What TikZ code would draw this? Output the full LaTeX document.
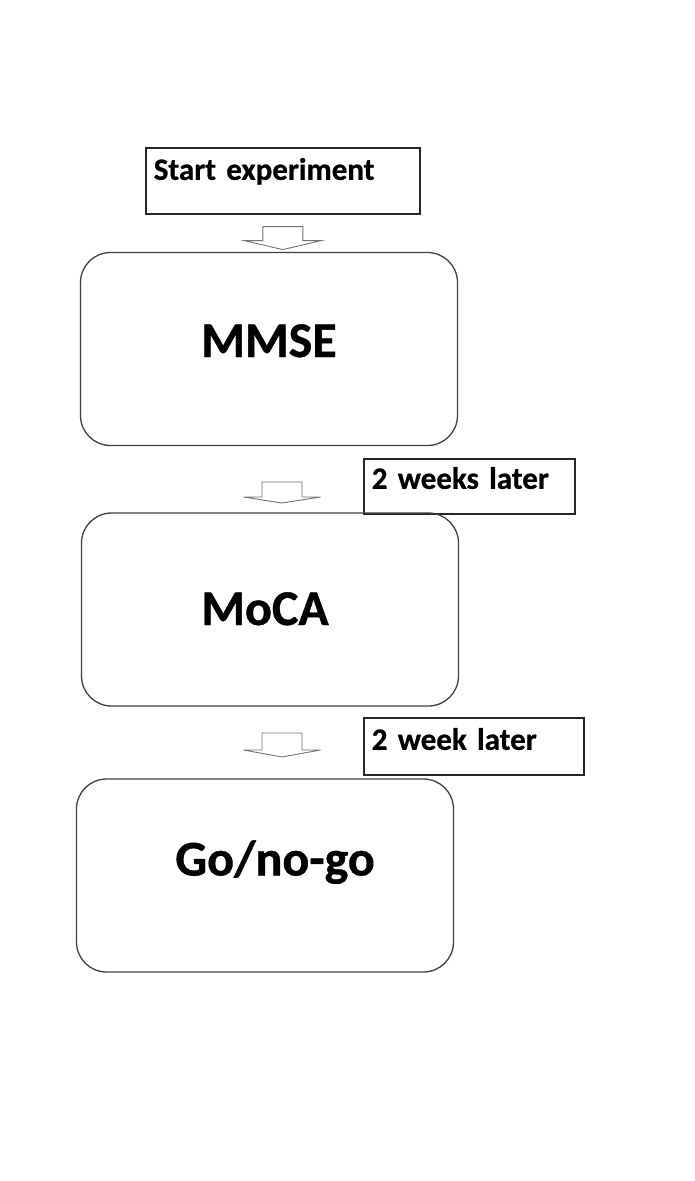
\documentclass[tikz,border=0pt]{standalone}
\usepackage{fontspec}
\setmainfont{Carlito}[BoldFeatures={FakeBold=0.8}]
\usetikzlibrary{positioning}

\tikzset{
  pics/blockdown/.style 2 args={code={
    \draw[draw=black!55, line width=0.9pt, fill=white, line join=miter]
      (-20,0) -- (20,0) -- (20,#1) -- (38.5,#1) -- (0,#1+#2)
      -- (-38.5,#1) -- (-20,#1) -- cycle;
  }}
}

\begin{document}
\begin{tikzpicture}[
  x=1pt, y=-1pt,
  stagebox/.style={rectangle, draw=black!75, line width=1.3pt, rounded corners=30pt,
                   minimum width=377pt, minimum height=193pt, inner sep=0pt,
                   text height=32pt, font=\fontsize{50}{60}\selectfont\bfseries},
  notebox/.style={rectangle, draw=black!85, line width=1.6pt, align=left,
                  inner xsep=8pt, inner ysep=6pt, anchor=north west,
                  font=\fontsize{31}{36}\selectfont\bfseries}
]
\useasboundingbox (0,0) rectangle (695,1181);

% timeline notes
\node[notebox, text width=258pt, text height=26pt, text depth=28pt] (start) at (145,147) {Start experiment};
\node[notebox, text width=195pt, text height=24pt, text depth=19pt] (weeks1) at (363,458) {2 weeks later};
\node[notebox, text width=204pt, text height=26pt, text depth=19pt] (weeks2) at (363,717) {2 week later};

% tests
\node[stagebox, text depth=16pt] (mmse) at (269,349) {MMSE};
\node[stagebox, text depth=1pt] (moca) at (270,609.5) {MoCA\hspace*{10pt}};
\node[stagebox, text depth=32pt] (gonogo) at (265,875.5) {\hspace*{20pt}Go/no-go};

% block arrows
\coordinate[below=12pt of start] (arr1);
\coordinate (arr2) at (282,482);
\coordinate (arr3) at (282,733);
\pic at (arr1) {blockdown={14}{9}};
\pic at (arr2) {blockdown={15}{6}};
\pic at (arr3) {blockdown={17}{7}};
\end{tikzpicture}
\end{document}
